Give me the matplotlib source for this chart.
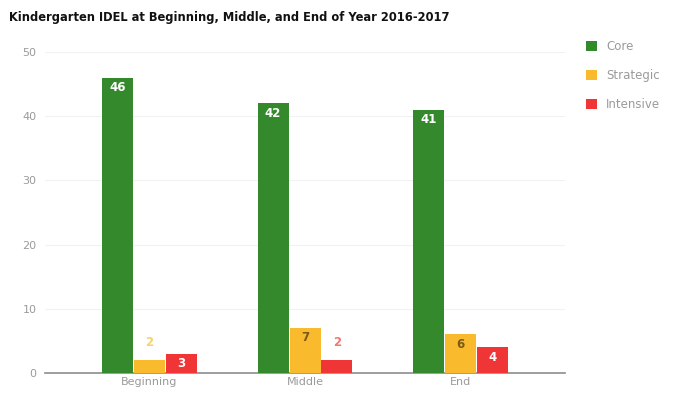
import matplotlib.pyplot as plt
from matplotlib import font_manager
import numpy as np

categories = ['Beginning', 'Middle', 'End']
core = [46, 42, 41]
strategic = [2, 7, 6]
intensive = [3, 2, 4]
series_names = ['Core', 'Strategic', 'Intensive']
yticks = [0, 10, 20, 30, 40, 50]

colors = ['#34892c', '#f9bb2d', '#ef3535']
inside_txt = ['white', '#7a5a18', 'white']
above_txt = ['#34892c', '#f6d36a', '#f07a70']

fig = plt.figure(figsize=(6.78, 3.95), dpi=100)
ax = fig.add_axes([0.0664, 0.0557, 0.7670, 0.8126])

x = np.arange(len(categories))
w = 0.205
for k, vals in enumerate([core, strategic, intensive]):
    pos = x + (k - 1) * w
    ax.bar(pos, vals, width=w * 0.97, color=colors[k], label=series_names[k], zorder=3)
    for p, v in zip(pos, vals):
        if v >= 3:
            ax.text(p, v - 0.5, str(v), ha='center', va='top', fontsize=8.5,
                    fontweight='bold', color=inside_txt[k], zorder=4)
        else:
            ax.text(p, v + 1.8, str(v), ha='center', va='bottom', fontsize=8.5,
                    fontweight='bold', color=above_txt[k], zorder=4)

ax.set_xlim(-0.67, 2.67)
ax.set_ylim(0, 50)
ax.set_yticks(yticks)
ax.set_xticks(x)
ax.set_xticklabels(categories)
ax.tick_params(axis='both', length=0, labelsize=8, colors='#9a9a9a', pad=6)
ax.tick_params(axis='x', pad=3)
ax.grid(axis='y', color='#f2f2f2', linewidth=0.8, zorder=0)
for s in ['top', 'right', 'left']:
    ax.spines[s].set_visible(False)
ax.spines['bottom'].set_color('#8c8c8c')
ax.spines['bottom'].set_linewidth(1.2)

# title: condensed bold if it is there
names = set(f.name for f in font_manager.fontManager.ttflist)
if 'DejaVu Sans Condensed' in names:
    tfam, tsize = 'DejaVu Sans Condensed', 9.2
else:
    tfam, tsize = 'DejaVu Sans', 8.3
fig.text(0.013, 0.955, 'Kindergarten IDEL at Beginning, Middle, and End of Year 2016-2017',
         fontsize=tsize, fontweight='bold', ha='left', va='center', color='#111111',
         family=tfam)

leg = ax.legend(loc='upper left', bbox_to_anchor=(1.02, 1.07), frameon=False,
                fontsize=8.5, handlelength=0.9, handleheight=0.9, labelspacing=1.35,
                handletextpad=0.8)
for t in leg.get_texts():
    t.set_color('#9a9a9a')

fig.savefig('out.png', dpi=100)
